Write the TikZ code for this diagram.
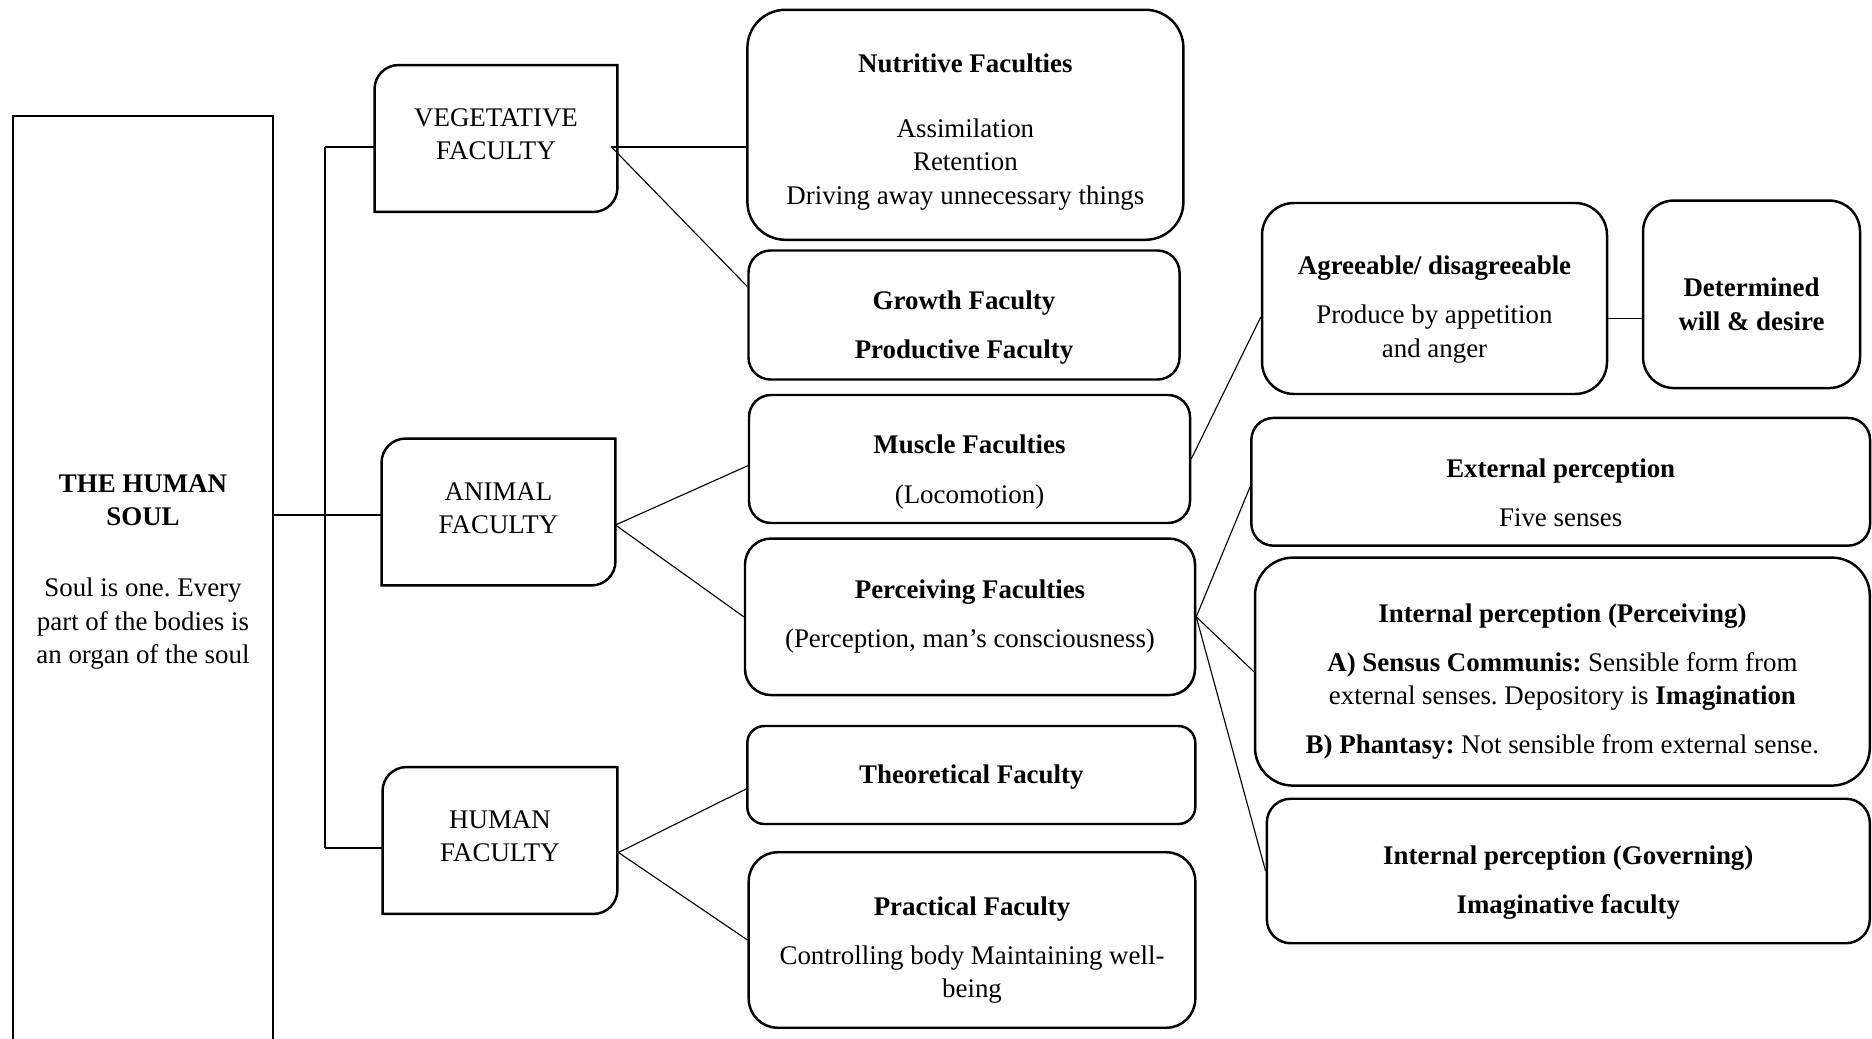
\documentclass[tikz,border=0pt]{standalone}
\usepackage{fontspec}
\setmainfont{Liberation Serif}
\usetikzlibrary{calc}
\newdimen\px \px=0.446pt
\frenchspacing
\begin{document}
\frenchspacing
\begin{tikzpicture}[x=0.446pt,y=-0.446pt,
  bline/.style={line width=1.1pt},
  conn/.style={line width=0.5pt},
  txt/.style={align=center,inner sep=0pt,font=\fontsize{12}{14.9}\selectfont},
  rbox/.style={draw,bline,inner sep=0pt}]
\useasboundingbox (0,0) rectangle (1872,1039);
% soul
\node[draw,bline,minimum width=260\px,minimum height=940\px,inner sep=0pt] (soul) at (143,586) {};
\node[txt] (soultxt) at (143,572) {\textbf{THE HUMAN}\\\textbf{SOUL}\\[16.8pt]Soul is one. Every\\part of the bodies is\\an organ of the soul};
% diagonal-rounded boxes
\node[minimum width=242\px,minimum height=146\px,inner sep=0pt] (veg) at (496,138.5) {};
\node[minimum width=233\px,minimum height=146\px,inner sep=0pt] (animal) at (498.5,512) {};
\node[minimum width=234\px,minimum height=146\px,inner sep=0pt] (human) at (500,840.5) {};
\foreach \n in {veg,animal,human}{
  \draw[bline] (\n.south west) -- ($(\n.north west)+(0,24)$) arc[start angle=180,end angle=90,radius=24\px]
    -- (\n.north east) -- ($(\n.south east)+(0,-24)$) arc[start angle=0,end angle=-90,radius=24\px] -- cycle;
}
\node[txt] (vegT) at ($(veg)+(0,-4)$) {VEGETATIVE\\FACULTY};
\node[txt] (animalT) at ($(animal)+(0,-4)$) {ANIMAL\\FACULTY};
\node[txt] (humanT) at ($(human)+(0,-4)$) {HUMAN\\FACULTY};
% column 1
\node[rbox,rounded corners=38\px,minimum width=436\px,minimum height=230\px] (nutr) at (965.4,124.8) {};
\node[txt] (nutrT) at ($(nutr)+(0,7)$)
  {\textbf{Nutritive Faculties}\\[14pt]Assimilation\\Retention\\Driving away unnecessary things};
\node[rbox,rounded corners=22\px,minimum width=431\px,minimum height=129\px] (growth) at (964,315) {};
\node[txt] (growthT) at ($(growth)+(0,13)$)
  {\textbf{Growth Faculty}\\[7pt]\textbf{Productive Faculty}};
\node[rbox,rounded corners=22\px,minimum width=441\px,minimum height=128\px] (muscle) at (969.5,459) {};
\node[txt] (muscleT) at ($(muscle)+(0,13)$)
  {\textbf{Muscle Faculties}\\[7pt](Locomotion)};
\node[rbox,rounded corners=26\px,minimum width=450\px,minimum height=156.5\px] (perc) at (970,616.8) {};
\node[txt] (percT) at ($(perc)+(0,0)$)
  {\textbf{Perceiving Faculties}\\[7pt](Perception, man’s consciousness)};
\node[rbox,rounded corners=17\px,minimum width=448\px,minimum height=98\px] (theo) at (971.3,775) {};
\node[txt] (theoT) at ($(theo)+(0,2)$)
  {\textbf{Theoretical Faculty}};
\node[rbox,rounded corners=29\px,minimum width=446.6\px,minimum height=175.5\px] (prac) at (972,940) {};
\node[txt] (pracT) at ($(prac)+(0,10)$)
  {\textbf{Practical Faculty}\\[7pt]Controlling body Maintaining well-\\being};
% column 2
\node[rbox,rounded corners=32\px,minimum width=345\px,minimum height=191\px] (agree) at (1434.5,298.5) {};
\node[txt] (agreeT) at ($(agree)+(0,11)$)
  {\textbf{Agreeable/ disagreeable}\\[7pt]Produce by appetition\\and anger};
\node[rbox,rounded corners=31\px,minimum width=217\px,minimum height=187.5\px] (determ) at (1751.5,294.3) {};
\node[txt] (determT) at ($(determ)+(0,10)$)
  {\textbf{Determined}\\\textbf{will \& desire}};
\node[rbox,rounded corners=22\px,minimum width=618.7\px,minimum height=127.7\px] (ext) at (1560.7,481.8) {};
\node[txt] (extT) at ($(ext)+(0,11)$)
  {\textbf{External perception}\\[7pt]Five senses};
\node[rbox,rounded corners=38\px,minimum width=614.8\px,minimum height=228\px] (intp) at (1562.4,671.6) {};
\node[txt] (intpT) at ($(intp)+(0,10)$)
  {\textbf{Internal perception (Perceiving)}\\[7pt]\textbf{A) Sensus Communis:} Sensible form from\\external senses. Depository is \textbf{Imagination}\\[7pt]\textbf{B) Phantasy:} Not sensible from external sense.};
\node[rbox,rounded corners=24\px,minimum width=603\px,minimum height=144.5\px] (gov) at (1568.3,871) {};
\node[txt] (govT) at ($(gov)+(0,12)$)
  {\textbf{Internal perception (Governing)}\\[7pt]\textbf{Imaginative faculty}};
% connectors
\coordinate (busT) at (325,147);
\coordinate (busB) at (325,848);
\coordinate (aniL) at ($(animal.west)+(0,3)$);
\coordinate (vegR) at ($(veg.east)+(-6,8.5)$);
\coordinate (aniR) at ($(animal.east)+(0,13)$);
\coordinate (humR) at ($(human.east)+(1,12)$);
\coordinate (agR) at ($(agree.east)+(0,20)$);
\draw[conn] (busT) -- (busB);
\draw[conn] (busT) -- (veg.west |- busT);
\draw[conn] (busB) -- (human.west |- busB);
\draw[conn] (soul.east |- aniL) -- (aniL);
\draw[conn] (vegR) -- (nutr.west |- vegR);
\draw[conn] (vegR) -- ($(growth.west)+(0,-28.5)$);
\draw[conn] (aniR) -- ($(muscle.west)+(0,6.7)$);
\draw[conn] (aniR) -- (perc.west);
\draw[conn] (humR) -- ($(theo.west)+(0,14)$);
\draw[conn] (humR) -- (prac.west);
\draw[conn] (muscle.east) -- ($(agree.west)+(0,18.5)$);
\draw[conn] (agR) -- (determ.west |- agR);
\draw[conn] (perc.east) -- ($(ext.west)+(0,5)$);
\draw[conn] (perc.east) -- (intp.west);
\draw[conn] (perc.east) -- (gov.west);
\end{tikzpicture}
\end{document}
